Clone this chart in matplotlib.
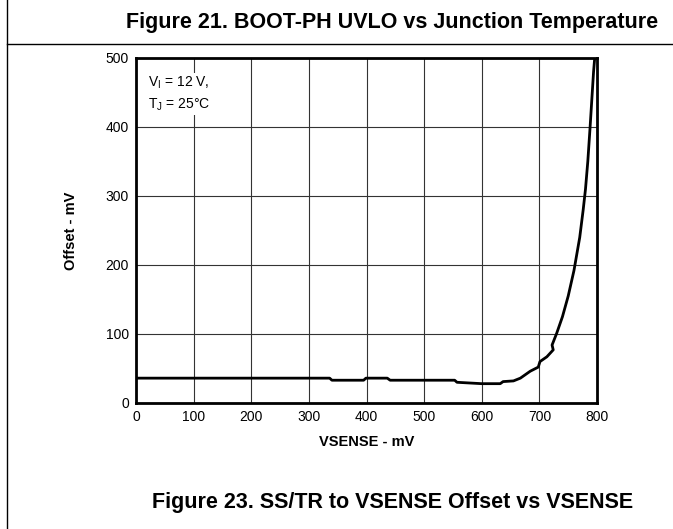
import numpy as np
import matplotlib.pyplot as plt
from matplotlib.lines import Line2D

plt.rcParams['font.family'] = ['Liberation Sans', 'DejaVu Sans']

# data -------------------------------------------------
vsense = [4, 100, 200, 300, 336, 340, 395, 399, 436, 441, 500, 553, 557, 600, 632, 637, 655,
          667, 684, 698, 701, 713, 724, 722, 730, 740, 750, 760, 770, 776, 780, 784, 788, 791, 794, 796]
offset = [36, 36, 36, 36, 36, 33, 33, 36, 36, 33, 33, 33, 30, 28, 28, 31, 32,
          36, 46, 52, 60, 67, 77, 84, 101, 125, 155, 192, 240, 280, 310, 350, 400, 440, 480, 500]

xticks = [0, 100, 200, 300, 400, 500, 600, 700, 800]
yticks = [0, 100, 200, 300, 400, 500]

# figure -------------------------------------------------
fig = plt.figure(figsize=(6.73, 5.29), dpi=100)
ax = fig.add_axes([0.2021, 0.2382, 0.685, 0.6522])

ax.plot(vsense, offset, color='black', lw=2.0, zorder=3)

ax.set_xlim(0, 800)
ax.set_ylim(0, 500)
ax.set_xticks(xticks)
ax.set_yticks(yticks)
ax.tick_params(length=0, labelsize=10, pad=5)
ax.grid(True, color='#333333', lw=0.8)
for s in ax.spines.values():
    s.set_linewidth(2.0)

ax.set_xlabel('VSENSE - mV', fontsize=10.5, fontweight='bold', labelpad=8)
ax.set_ylabel('Offset - mV', fontsize=10.5, fontweight='bold', labelpad=20)

ax.text(20, 476, '$\\mathregular{V_I}$ = 12 V,\n$\\mathregular{T_J}$ = 25°C', fontsize=10,
        va='top', ha='left', linespacing=1.5,
        bbox=dict(facecolor='white', edgecolor='none', pad=1), zorder=4)

fig.text(0.583, 0.957, 'Figure 21. BOOT-PH UVLO vs Junction Temperature',
         fontsize=15.5, fontweight='bold', ha='center', va='center')
fig.text(0.583, 0.051, 'Figure 23. SS/TR to VSENSE Offset vs VSENSE',
         fontsize=15.5, fontweight='bold', ha='center', va='center')

# page frame lines
fig.add_artist(Line2D([0.011, 0.011], [0, 1], color='black', lw=1.0))
fig.add_artist(Line2D([0.011, 1], [0.917, 0.917], color='black', lw=1.0))

plt.savefig('out.png', dpi=100)
